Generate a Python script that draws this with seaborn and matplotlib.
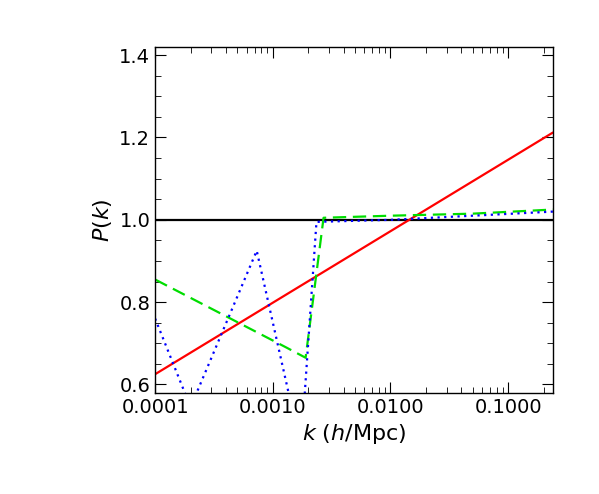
import numpy as np
import pandas as pd
import seaborn as sns
import matplotlib
import matplotlib.pyplot as plt
from matplotlib.ticker import AutoMinorLocator, LogLocator, NullFormatter

matplotlib.use('Agg')

red_k = [1e-4, 0.24]
red_p = [0.625, 1.212]

black_k = [1e-4, 0.24]
black_p = [1.0, 1.0]

green_k = [1e-4, 0.0013, 0.0019, 0.0027, 0.01, 0.05, 0.24]
green_p = [0.855, 0.69, 0.665, 1.005, 1.01, 1.015, 1.025]

blue_k = [1e-4, 2.0e-4, 7.3e-4, 1.45e-3, 1.85e-3, 2.35e-3, 0.01, 0.05, 0.24]
blue_p = [0.76, 0.545, 0.925, 0.545, 0.56, 0.995, 1.0, 1.01, 1.02]

xticks = [0.0001, 0.001, 0.01, 0.1]
xticklabels = ['0.0001', '0.0010', '0.0100', '0.1000']
yticks = [0.6, 0.8, 1.0, 1.2, 1.4]

sns.set_style('ticks')
plt.rcParams['font.family'] = ['DejaVu Sans']
plt.rcParams['text.color'] = 'black'
plt.rcParams['axes.labelcolor'] = 'black'
plt.rcParams['xtick.color'] = 'black'
plt.rcParams['ytick.color'] = 'black'
fig, ax = plt.subplots(figsize=(5.99, 4.94), dpi=100)
fig.subplots_adjust(left=0.259, right=0.923, top=0.905, bottom=0.205)

sns.lineplot(x=black_k, y=black_p, color='black', lw=1.6, ax=ax)
sns.lineplot(x=red_k, y=red_p, color='#ff0000', lw=1.6, ax=ax)
sns.lineplot(x=green_k, y=green_p, color='#00dd00', lw=1.6, ax=ax, linestyle=(0, (6, 3)))
sns.lineplot(x=blue_k, y=blue_p, color='#0000ff', lw=1.6, ax=ax, linestyle=(0, (1, 2)))

ax.set_xscale('log')
ax.set_xlim(1e-4, 0.24)
ax.set_ylim(0.58, 1.42)
ax.set_xticks(xticks)
ax.set_xticklabels(xticklabels)
ax.xaxis.set_minor_locator(LogLocator(subs=np.arange(2, 10)))
ax.xaxis.set_minor_formatter(NullFormatter())
ax.set_yticks(yticks)
ax.yaxis.set_minor_locator(AutoMinorLocator(4))
ax.tick_params(which='both', direction='in', top=True, right=True, labelsize=14)
ax.tick_params(which='major', length=8)
ax.tick_params(which='minor', length=4)
for s in ax.spines.values():
    s.set_linewidth(1.0)
    s.set_color('black')
ax.set_xlabel(r'$k$ ($h$/Mpc)', fontsize=16)
ax.set_ylabel(r'$P(k)$', fontsize=16)

plt.savefig('out.png')
plt.close()
